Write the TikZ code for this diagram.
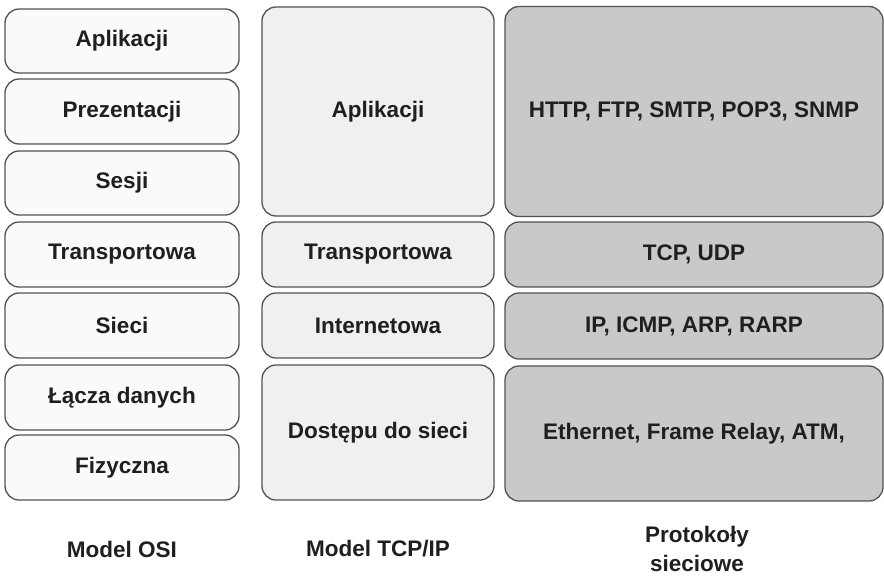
\documentclass[tikz,border=0pt]{standalone}
\usepackage{fontspec}
\setmainfont{Liberation Sans}
\begin{document}
\begin{tikzpicture}[x=1pt,y=-1pt,
  lay/.style={draw=black!68, line width=1.3pt, rounded corners=14pt, text=black!88,
    font=\fontsize{22.5}{26}\selectfont\bfseries, inner sep=0pt, outer sep=0pt},
  c1/.style={lay, fill=white!98!black, minimum width=234pt},
  c2/.style={lay, fill=black!6, minimum width=232pt},
  c3/.style={lay, fill=black!21, minimum width=378pt},
  captext/.style={text=black!88, font=\fontsize{22.5}{29}\selectfont\bfseries, align=center}]
\useasboundingbox (0,0) rectangle (884,576);
% OSI column
\node[c1, minimum height=64pt] (o1) at (122,41) {Aplikacji};
\node[c1, minimum height=65pt] (o2) at (122,111.5) {Prezentacji};
\node[c1, minimum height=64pt] (o3) at (122,183) {Sesji};
\node[c1, minimum height=65pt] (o4) at (122,254.5) {Transportowa};
\node[c1, minimum height=65pt] (o5) at (122,325.5) {Sieci};
\node[c1, minimum height=65pt] (o6) at (122,397.5) {Łącza danych};
\node[c1, minimum height=65pt] (o7) at (122,467.5) {Fizyczna};
% TCP/IP column
\node[c2, minimum height=209pt] (t1) at (378,111.5) {Aplikacji};
\node[c2, minimum height=65pt] (t2) at (378,254.5) {Transportowa};
\node[c2, minimum height=65pt] (t3) at (378,325.5) {Internetowa};
\node[c2, minimum height=135pt] (t4) at (378,432.5) {Dostępu do sieci};
% protocols column
\node[c3, minimum height=210pt] (p1) at (694,111.5) {HTTP, FTP, SMTP, POP3, SNMP};
\node[c3, minimum height=65pt] (p2) at (694,254.5) {TCP, UDP};
\node[c3, minimum height=66pt] (p3) at (694,326) {IP, ICMP, ARP, RARP};
\node[c3, minimum height=135pt] (p4) at (694,433.5) {Ethernet, Frame Relay, ATM,};
% captions
\node[captext] (l1) at (122,549) {Model OSI};
\node[captext] (l2) at (378,549) {Model TCP/IP};
\node[captext] (l3) at (697,549) {Protokoły\\sieciowe};
\end{tikzpicture}
\end{document}
